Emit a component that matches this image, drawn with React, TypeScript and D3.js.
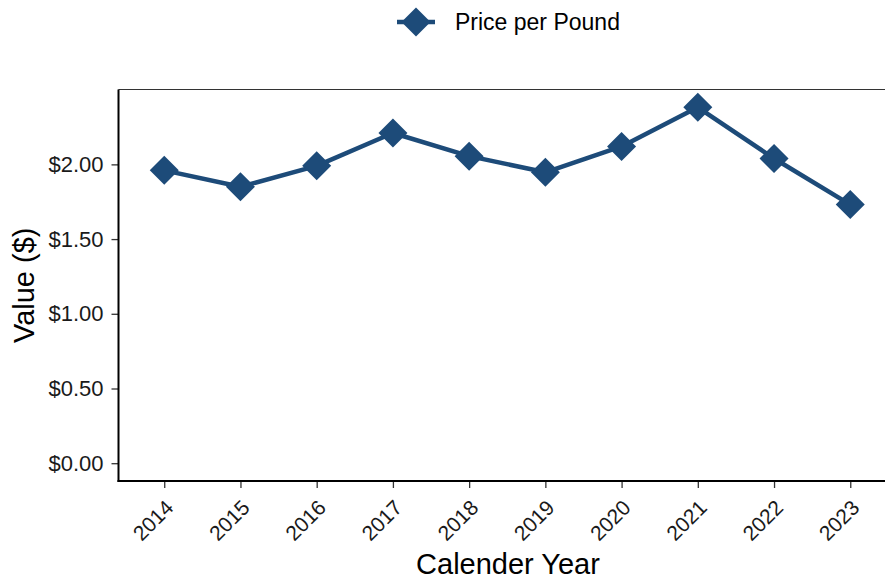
import React, { useEffect, useRef } from 'react';
import * as d3 from 'd3';

const years = ['2014', '2015', '2016', '2017', '2018', '2019', '2020', '2021', '2022', '2023'];
const pricePerPound = [1.96, 1.85, 1.99, 2.21, 2.055, 1.947, 2.12, 2.382, 2.039, 1.731];
const yTicks = [0, 0.5, 1, 1.5, 2];
const seriesName = 'Price per Pound';

const App = () => {
  const svgRef = useRef(null);

  useEffect(() => {
    if (!svgRef.current) return;
    const svg = d3.select(svgRef.current);
    svg.selectAll('*').remove();

    const width = 885;
    const height = 581;
    const color = '#1d4b79';
    const font = '"Liberation Sans", Arial, sans-serif';

    // plot area (right side runs past the canvas, as in the reference)
    const left = 118.5;
    const right = 896;
    const top = 89.5;
    const bottom = 481;

    const x = d3.scalePoint()
      .domain(years)
      .range([left, right])
      .padding(0.6);

    const dataMax = d3.max(pricePerPound);
    const pad = dataMax * 0.05;
    const y = d3.scaleLinear()
      .domain([0 - pad, dataMax + pad])
      .range([bottom, top]);

    svg.attr('width', width).attr('height', height).style('font-family', font);

    // panel border top
    svg.append('line')
      .attr('x1', left).attr('x2', right)
      .attr('y1', top).attr('y2', top)
      .attr('stroke', '#333').attr('stroke-width', 1.2);

    // y axis
    const yAxis = svg.append('g')
      .attr('transform', `translate(${left},0)`)
      .call(d3.axisLeft(y).tickValues(yTicks).tickSize(7).tickPadding(8).tickFormat(d => `$${d3.format('.2f')(d)}`));
    yAxis.select('.domain').remove();
    yAxis.selectAll('.tick line').attr('stroke', '#333').attr('stroke-width', 1.3);
    yAxis.selectAll('.tick text')
      .attr('fill', '#1a1a1a')
      .style('font-size', '22px')
      .style('font-family', font);
    svg.append('line')
      .attr('x1', left).attr('x2', left)
      .attr('y1', top).attr('y2', bottom + 1)
      .attr('stroke', '#000').attr('stroke-width', 2);

    // x axis
    const xAxis = svg.append('g')
      .attr('transform', `translate(0,${bottom})`)
      .call(d3.axisBottom(x).tickSize(7).tickPadding(2));
    xAxis.select('.domain').remove();
    xAxis.selectAll('.tick line').attr('stroke', '#333').attr('stroke-width', 1.3);
    xAxis.selectAll('.tick text')
      .attr('fill', '#1a1a1a')
      .style('font-size', '21px')
      .style('font-family', font)
      .attr('text-anchor', 'end')
      .attr('dy', null)
      .attr('x', 0)
      .attr('y', 0)
      .attr('transform', 'translate(10,28) rotate(-45)');
    svg.append('line')
      .attr('x1', left - 1).attr('x2', right)
      .attr('y1', bottom).attr('y2', bottom)
      .attr('stroke', '#000').attr('stroke-width', 2);

    // axis titles
    svg.append('text')
      .attr('x', 508)
      .attr('y', 574)
      .attr('text-anchor', 'middle')
      .style('font-size', '29px')
      .attr('fill', '#000')
      .text('Calender Year');

    svg.append('text')
      .attr('transform', `translate(34,${(top + bottom) / 2}) rotate(-90)`)
      .attr('text-anchor', 'middle')
      .style('font-size', '29px')
      .attr('fill', '#000')
      .text('Value ($)');

    // line
    const line = d3.line()
      .x((d, i) => x(years[i]))
      .y(d => y(d));
    svg.append('path')
      .datum(pricePerPound)
      .attr('d', line)
      .attr('fill', 'none')
      .attr('stroke', color)
      .attr('stroke-width', 4.5)
      .attr('stroke-linejoin', 'round');

    const diamond = (r) => `M0,${-r}L${r},0L0,${r}L${-r},0Z`;
    svg.append('g')
      .selectAll('path')
      .data(pricePerPound)
      .join('path')
      .attr('d', diamond(14.5))
      .attr('transform', (d, i) => `translate(${x(years[i])},${y(d)})`)
      .attr('fill', color);

    // legend
    const lg = svg.append('g').attr('transform', 'translate(416,22)');
    lg.append('line')
      .attr('x1', -19).attr('x2', 19)
      .attr('stroke', color).attr('stroke-width', 4.5);
    lg.append('path').attr('d', diamond(14.5)).attr('fill', color);
    lg.append('text')
      .attr('x', 39)
      .attr('y', 0)
      .attr('dy', '0.35em')
      .style('font-size', '23px')
      .attr('fill', '#000')
      .text(seriesName);
  }, []);

  return <svg ref={svgRef} style={{ position: 'absolute', left: 0, top: 0 }} />;
};

export default App;
